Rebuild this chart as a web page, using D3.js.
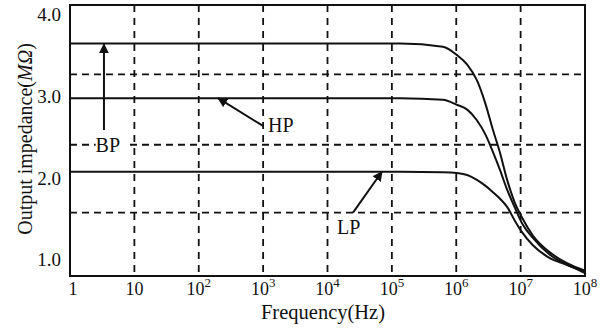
<!DOCTYPE html>
<html>
<head>
<meta charset="utf-8">
<script src="https://cdn.jsdelivr.net/npm/d3@7"></script>
<style>
  html, body { margin: 0; padding: 0; background: #fff; }
  svg { display: block; }
  text { font-family: "Liberation Serif", "Times New Roman", "DejaVu Serif", serif; fill: #111; }
</style>
</head>
<body>
<svg id="chart" width="601" height="328"></svg>
<script>
// Frequency samples (Hz) shared by the three responses
const freqs = [1, 1.35e5, 6.2e5, 1.02e6, 1.48e6, 2.09e6, 2.82e6, 3.72e6, 4.79e6, 6.17e6, 8.13e6, 1.05e7, 1.55e7, 2.88e7, 5.25e7, 1e8];
// Output impedance (MΩ) for each filter output
const bpValues = [3.65, 3.65, 3.61, 3.51, 3.39, 3.20, 2.92, 2.59, 2.31, 1.98, 1.70, 1.52, 1.30, 1.09, 0.96, 0.87];
const hpValues = [2.98, 2.98, 2.96, 2.90, 2.84, 2.71, 2.54, 2.32, 2.10, 1.86, 1.64, 1.45, 1.27, 1.06, 0.94, 0.86];
const lpValues = [2.08, 2.08, 2.075, 2.065, 2.04, 1.98, 1.91, 1.83, 1.75, 1.65, 1.48, 1.34, 1.18, 1.02, 0.94, 0.84];

// Axis ticks and grid
const xTickExps = [0, 1, 2, 3, 4, 5, 6, 7, 8];
const xGridFreqs = [1e1, 1e2, 1e3, 1e4, 1e5, 1e6, 1e7];
const yTickValues = [1.0, 2.0, 3.0, 4.0];
const yGridValues = [3.27, 2.41, 1.58];

// Annotation arrows: label, tail point, tip point and label anchor (frequency, impedance)
const annotations = [
  { label: "BP", tail: [3.37, 2.59], tip: [3.37, 3.64], text: [2.5, 2.41] },
  { label: "HP", tail: [1.0e3, 2.64], tip: [2.0e2, 2.98], text: [1.19e3, 2.65] },
  { label: "LP", tail: [2.49e4, 1.58], tip: [7.0e4, 2.08], text: [1.41e4, 1.40] }
];

const svg = d3.select("#chart");
const plotLeft = 70, plotRight = 585, plotTop = 5, plotBottom = 276;

const x = d3.scaleLog().domain([1, 1e8]).range([plotLeft, plotRight]);
const y = d3.scaleLinear().domain([0.804, 4.12]).range([plotBottom, plotTop]);

// Dashed grid
svg.append("g").selectAll("line").data(xGridFreqs).join("line")
  .attr("x1", d => x(d)).attr("x2", d => x(d))
  .attr("y1", plotTop).attr("y2", plotBottom)
  .attr("stroke", "#111").attr("stroke-width", 1.8)
  .attr("stroke-dasharray", "7,6");

svg.append("g").selectAll("line").data(yGridValues).join("line")
  .attr("x1", plotLeft).attr("x2", plotRight)
  .attr("y1", d => y(d)).attr("y2", d => y(d))
  .attr("stroke", "#111").attr("stroke-width", 1.8)
  .attr("stroke-dasharray", "7,5");

// Frame
svg.append("rect")
  .attr("x", plotLeft).attr("y", plotTop)
  .attr("width", plotRight - plotLeft).attr("height", plotBottom - plotTop)
  .attr("fill", "none").attr("stroke", "#111").attr("stroke-width", 2);

// Curves
const line = d3.line()
  .x((d, i) => x(freqs[i]))
  .y(d => y(d))
  .curve(d3.curveMonotoneX);

[bpValues, hpValues, lpValues].forEach(vals => {
  svg.append("path")
    .attr("d", line(vals))
    .attr("fill", "none")
    .attr("stroke", "#111")
    .attr("stroke-width", 2);
});

// Arrowheads
const defs = svg.append("defs");
defs.append("marker")
  .attr("id", "arrow")
  .attr("viewBox", "0 0 10 10")
  .attr("refX", 9).attr("refY", 5)
  .attr("markerWidth", 10).attr("markerHeight", 10)
  .attr("markerUnits", "userSpaceOnUse")
  .attr("orient", "auto")
  .append("path")
  .attr("d", "M0,0 L10,5 L0,10 Z")
  .attr("fill", "#111");

annotations.forEach(a => {
  svg.append("line")
    .attr("x1", x(a.tail[0])).attr("y1", y(a.tail[1]))
    .attr("x2", x(a.tip[0])).attr("y2", y(a.tip[1]))
    .attr("stroke", "#111").attr("stroke-width", 2)
    .attr("marker-end", "url(#arrow)");
  const t = svg.append("text")
    .attr("x", x(a.text[0])).attr("y", y(a.text[1]))
    .attr("dominant-baseline", "central")
    .attr("font-size", 20)
    .text(a.label);
  if (a.label === "BP") {
    const bb = t.node().getBBox();
    svg.insert("rect", () => t.node())
      .attr("x", bb.x).attr("y", bb.y + 3)
      .attr("width", bb.width + 8).attr("height", bb.height - 6)
      .attr("fill", "#fff");
  }
});

// Y tick labels
svg.append("g").selectAll("text").data(yTickValues).join("text")
  .attr("x", 61).attr("y", d => y(d))
  .attr("text-anchor", "end")
  .attr("dominant-baseline", "central")
  .attr("font-size", 19)
  .text(d => d.toFixed(1));

// X tick labels with superscript exponents
const xt = svg.append("g").selectAll("text").data(xTickExps).join("text")
  .attr("x", d => x(Math.pow(10, d)) + (d === 0 ? 3 : 0))
  .attr("y", 295)
  .attr("text-anchor", "middle")
  .attr("font-size", 18);
xt.each(function(d) {
  const s = d3.select(this);
  if (d === 0) { s.text("1"); return; }
  if (d === 1) { s.text("10"); return; }
  s.append("tspan").text("10");
  s.append("tspan").attr("font-size", 13).attr("dy", -8).text(d);
});

// Axis titles
svg.append("text")
  .attr("x", 323).attr("y", 319)
  .attr("text-anchor", "middle")
  .attr("font-size", 20.5)
  .text("Frequency(Hz)");

const yt = svg.append("text")
  .attr("transform", "translate(32,139) rotate(-90)")
  .attr("text-anchor", "middle")
  .attr("font-size", 20);
yt.append("tspan").text("Output impedance(");
yt.append("tspan").attr("font-style", "italic").text("MΩ");
yt.append("tspan").text(")");
</script>
</body>
</html>
